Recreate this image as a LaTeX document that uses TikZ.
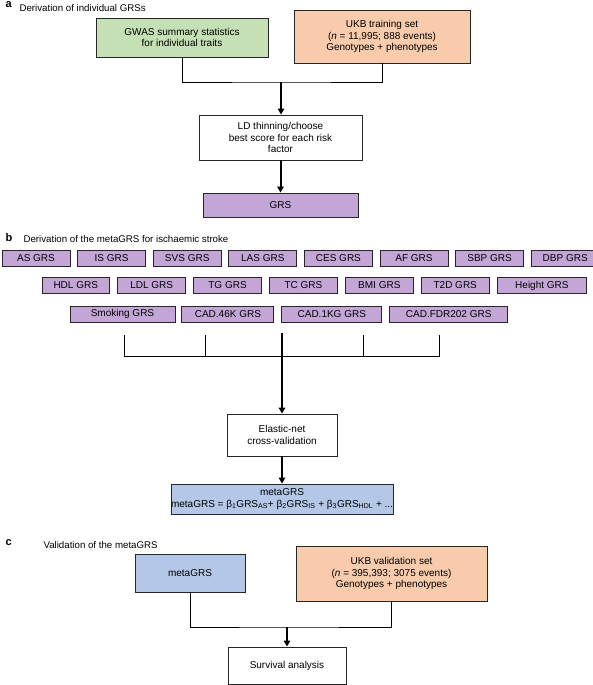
\documentclass[tikz,border=0pt]{standalone}
\usepackage{fontspec}
\setmainfont{Liberation Sans}
\definecolor{green}{RGB}{197, 224, 180}
\definecolor{orange}{RGB}{248, 203, 173}
\definecolor{purple}{RGB}{195, 166, 214}
\definecolor{blue}{RGB}{180, 199, 231}
\usepackage{tikz}
\usetikzlibrary{arrows.meta}
\usetikzlibrary{positioning}

\begin{document}
\begin{tikzpicture}[
      x=1pt, y=-1pt,
      box/.style={rectangle, draw=black!85, line width=0.9pt, align=center,
                  inner sep=0pt, font=\fontsize{10}{11.7}\selectfont},
      grs/.style={box, fill=purple, minimum height=16pt, minimum width=68pt},
      heading/.style={anchor=base west, font=\fontsize{9.7}{11}\selectfont},
      panel/.style={anchor=base west, font=\fontsize{11}{12}\selectfont\bfseries},
      link/.style={line width=1pt},
      flow/.style={line width=2pt, -{Triangle[length=6pt, width=6.5pt]}}
    ]
      \useasboundingbox (0,0) rectangle (592,685);

      % a
      \node [panel] (lbla) at (2,8) {a};
      \node [heading] (heada) at (16,11.5) {Derivation of individual GRSs};
      \node [box, fill=green, minimum width=172pt, minimum height=39pt]
            (gwas) at (182,37.5) {GWAS summary statistics\\for individual traits};
      \node [box, fill=orange, minimum width=176pt, minimum height=53pt]
            (ukbtrain) at (382,36.5)
            {UKB training set\\(\textit{n} = 11,995; 888 events)\\Genotypes + phenotypes};
      \node [box, fill=white, minimum width=163pt, minimum height=45pt]
            (ld) at (280.5,137.5) {LD thinning/choose\\best score for each risk\\factor};
      \node [box, fill=purple, minimum width=155pt, minimum height=24pt]
            (grs) at (280.5,205) {GRS};
      \coordinate (ja) at (281,82);

      \draw [link] (gwas.south) |- (ja) -| (ukbtrain.south);
      \draw [flow] (ja) -- (ja |- ld.north);
      \draw [flow] (ld.south) -- (grs.north);

      % b
      \node [panel] (lblb) at (2,241) {b};
      \node [heading] (headb) at (20,242) {Derivation of the metaGRS for ischaemic stroke};

      \node [grs] (as) at (36,258.5) {AS GRS};
      \node [grs, right=6.7pt of as] (is) {IS GRS};
      \node [grs, right=6.7pt of is] (svs) {SVS GRS};
      \node [grs, right=6.7pt of svs] (las) {LAS GRS};
      \node [grs, right=6.7pt of las] (ces) {CES GRS};
      \node [grs, right=6.7pt of ces] (af) {AF GRS};
      \node [grs, right=6.7pt of af] (sbp) {SBP GRS};
      \node [grs, right=6.7pt of sbp] (dbp) {DBP GRS};

      \node [grs, minimum width=67.5pt] (hdl) at (75.75,285.5) {HDL GRS};
      \node [grs, minimum width=67.5pt, right=7.5pt of hdl] (ldl) {LDL GRS};
      \node [grs, minimum width=67.5pt, right=7.5pt of ldl] (tg) {TG GRS};
      \node [grs, minimum width=67.5pt, right=7.5pt of tg] (tc) {TC GRS};
      \node [grs, minimum width=67.5pt, right=7.5pt of tc] (bmi) {BMI GRS};
      \node [grs, minimum width=67.5pt, right=7.5pt of bmi] (t2d) {T2D GRS};
      \node [grs, minimum width=89pt, right=7.5pt of t2d] (height) {Height GRS};

      \node [grs, minimum width=105pt] (smoking) at (122.5,314) {Smoking GRS};
      \node [grs, minimum width=92pt, right=6pt of smoking] (cadk) {CAD.46K GRS};
      \node [grs, minimum width=100pt, right=7pt of cadk] (cadkg) {CAD.1KG GRS};
      \node [grs, minimum width=118pt, right=7pt of cadkg] (cadfdr) {CAD.FDR202 GRS};

      \node [box, fill=white, minimum width=110pt, minimum height=42pt]
            (elastic) at (282,435) {Elastic-net\\cross-validation};
      \node [box, fill=blue, minimum width=219pt, minimum height=30pt]
            (metab) at (282,499)
            {metaGRS\\metaGRS = β\textsubscript{1}GRS\textsubscript{AS}+
             β\textsubscript{2}GRS\textsubscript{IS} +
             β\textsubscript{3}GRS\textsubscript{HDL} + ...};

      \coordinate (b1) at (124,335);
      \coordinate (b2) at (205,335);
      \coordinate (b3) at (282,333);
      \coordinate (b4) at (363,335);
      \coordinate (b5) at (439,335);
      \coordinate (jb) at (282,356);

      \draw [link] (b1) -- (b1 |- jb) -- (b5 |- jb) -- (b5);
      \draw [link] (b2) -- (b2 |- jb);
      \draw [link] (b4) -- (b4 |- jb);
      \draw [flow] (b3) -- (b3 |- elastic.north);
      \draw [flow] (elastic.south) -- (metab.north);

      % c
      \node [panel] (lblc) at (2,545) {c};
      \node [heading] (headc) at (40,548) {Validation of the metaGRS};
      \node [box, fill=blue, minimum width=110pt, minimum height=38pt]
            (metac) at (190,573) {metaGRS};
      \node [box, fill=orange, minimum width=191pt, minimum height=55pt]
            (ukbval) at (391.5,573.5)
            {UKB validation set\\(\textit{n} = 395,393; 3075 events)\\Genotypes + phenotypes};
      \node [box, fill=white, minimum width=118pt, minimum height=37pt]
            (survival) at (287,665.5) {Survival analysis};
      \coordinate (jc) at (287,627);

      \draw [link] (metac.south) |- (jc) -| (ukbval.south);
      \draw [flow] (jc) -- (jc |- survival.north);
    \end{tikzpicture}
\end{document}
